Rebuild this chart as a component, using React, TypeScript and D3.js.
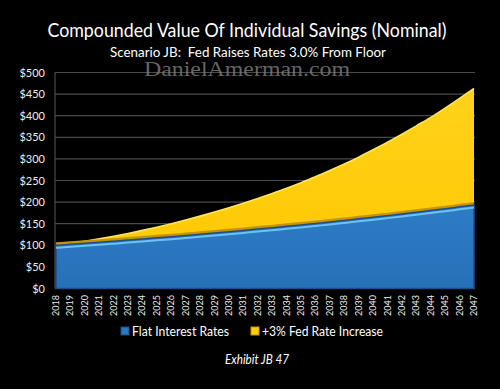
import React from "react";
import * as d3 from "d3";

const width = 500;
const height = 389;

const years = d3.range(2018, 2048).map(String);
const flatRates = [100, 102.3, 104.7, 107.1, 109.5, 112.0, 114.6, 117.2, 119.9, 122.7, 125.5, 128.4, 131.4, 134.4, 137.5, 140.6, 143.9, 147.2, 150.6, 154.0, 157.6, 161.2, 164.9, 168.7, 172.6, 176.5, 180.6, 184.7, 189.0, 193.3];
const fedIncrease = [100, 104.5, 109.5, 115, 121, 127.5, 134.5, 142, 150, 158.5, 167.5, 177, 187, 197.5, 208.5, 220, 232, 245, 258.5, 273, 288, 304, 321, 338.5, 357, 376.5, 396, 417.5, 440, 463];
const yTicks = [0, 50, 100, 150, 200, 250, 300, 350, 400, 450, 500];

const font = "Lato, 'Open Sans', sans-serif";

function App() {
    const x = d3.scalePoint<string>().domain(years).range([56, 474]);
    const y = d3.scaleLinear().domain([0, 500]).range([288.5, 72.5]);

    const area = d3.area<number>()
        .x((d, i) => x(years[i]) as number)
        .y0(y(0))
        .y1(d => y(d))
        .curve(d3.curveMonotoneX);
    const topLine = d3.line<number>()
        .x((d, i) => x(years[i]) as number)
        .y(d => y(d))
        .curve(d3.curveMonotoneX);

    return (
        <svg width={width} height={height} style={{position: "absolute", left: 0, top: 0, background: "#000"}}>
            <rect width={width} height={height} fill="#000"/>
            <text x={247} y={37} fill="#fff" fontFamily={font} fontSize={19} textAnchor="middle"
                  textLength={399} lengthAdjust="spacingAndGlyphs">
                Compounded Value Of Individual Savings (Nominal)
            </text>
            <text x={248} y={57} fill="#fff" fontFamily={font} fontSize={13.5} textAnchor="middle"
                  textLength={276} lengthAdjust="spacingAndGlyphs" style={{whiteSpace: "pre"}}>
                Scenario JB:  Fed Raises Rates 3.0% From Floor
            </text>

            {yTicks.map(t => (
                <g key={t}>
                    <line x1={55} x2={475} y1={y(t)} y2={y(t)} stroke="#4a4a4a" strokeWidth={1.2}/>
                    <text x={45} y={y(t) + 4} fill="#ececec" fontFamily={font} fontSize={11}
                          textAnchor="end">${t}</text>
                </g>
            ))}
            <line x1={55} x2={55} y1={y(500)} y2={y(0)} stroke="#4a4a4a" strokeWidth={1.2}/>

            <text x={247} y={76} fill="#808080" fillOpacity={0.8} fontFamily="'Liberation Serif', serif"
                  fontSize={20} textAnchor="middle" textLength={206} lengthAdjust="spacingAndGlyphs">
                DanielAmerman.com
            </text>

            <defs>
                <linearGradient id="yel" x1="0" y1="0" x2="0" y2="1">
                    <stop offset="0" stopColor="#ffd21a"/>
                    <stop offset="1" stopColor="#ffc800"/>
                </linearGradient>
                <linearGradient id="blu" x1="0" y1="0" x2="0" y2="1">
                    <stop offset="0" stopColor="#2e7cc6"/>
                    <stop offset="1" stopColor="#2770b8"/>
                </linearGradient>
            </defs>

            <path d={area(fedIncrease) ?? ""} fill="url(#yel)"/>
            <path d={topLine(fedIncrease) ?? ""} fill="none" stroke="#ffe55a" strokeWidth={1.6}/>
            <path d={topLine(flatRates) ?? ""} fill="none" stroke="#c99400" strokeWidth={3}
                  transform="translate(0,-1.5)"/>
            <path d={area(flatRates) ?? ""} fill="url(#blu)" stroke="#1b4f86" strokeWidth={1.5}/>
            <path d={topLine(flatRates) ?? ""} fill="none" stroke="#6cc3f3" strokeWidth={2}
                  transform="translate(0,2.5)"/>

            {years.map(yr => (
                <text key={yr} transform={`translate(${(x(yr) as number) + 3},316) rotate(-90)`}
                      fill="#ececec" fontFamily={font} fontSize={9}>{yr}</text>
            ))}

            <rect x={121} y={327} width={8} height={8} fill="#2a77c0" stroke="#1b4f86"/>
            <text x={132} y={336} fill="#fff" fontFamily={font} fontSize={13.5}
                  textLength={97} lengthAdjust="spacingAndGlyphs">Flat Interest Rates</text>
            <rect x={251} y={327} width={8} height={8} fill="#ffcb0a" stroke="#c99400"/>
            <text x={262} y={336} fill="#fff" fontFamily={font} fontSize={13.5}
                  textLength={121} lengthAdjust="spacingAndGlyphs">+3% Fed Rate Increase</text>

            <text x={225} y={364} fill="#fff" fontFamily={font} fontSize={12.5} fontStyle="italic"
                  textLength={64} lengthAdjust="spacingAndGlyphs">Exhibit JB 47</text>
        </svg>
    );
}

export default App;
